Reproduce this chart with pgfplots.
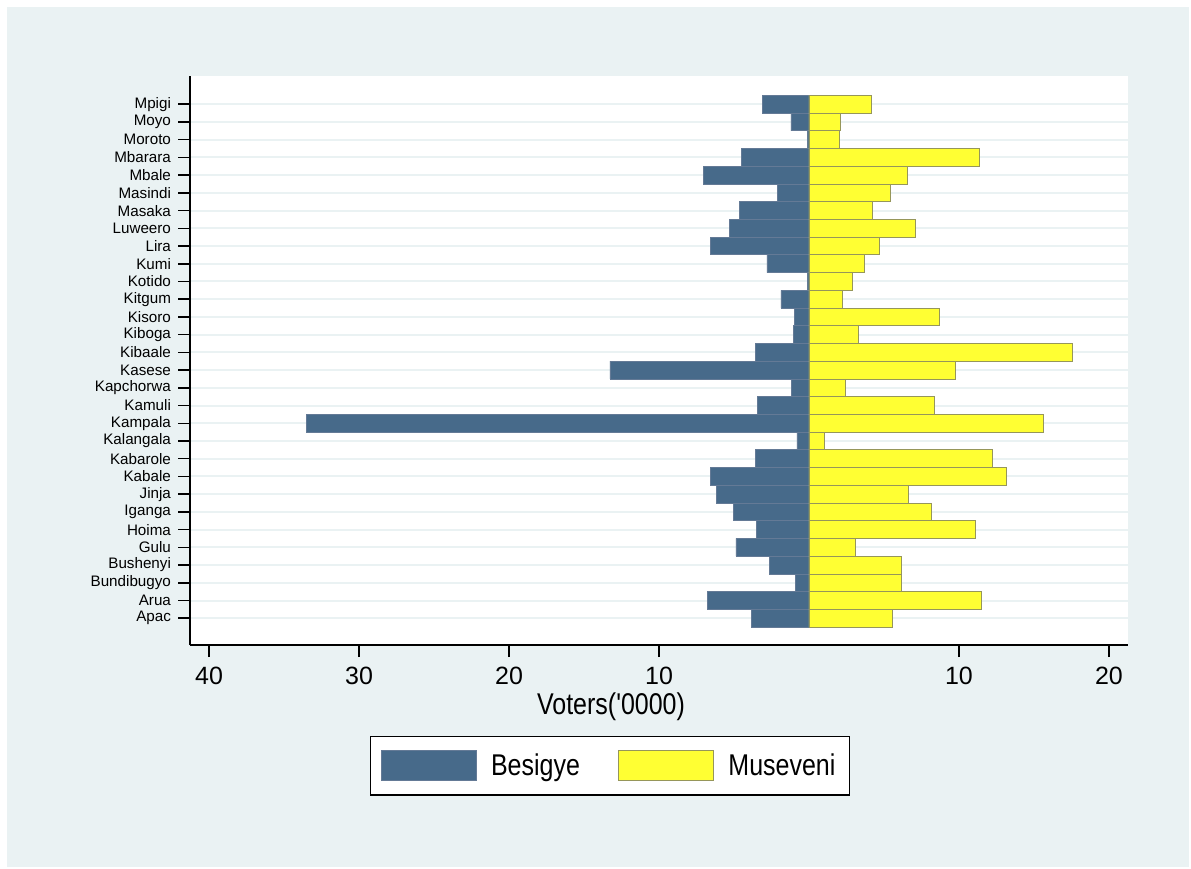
\documentclass[border=0pt]{standalone}
\usepackage{fontspec}
\setmainfont{Liberation Sans}
\usepackage{graphicx}
\usepackage{pgfplots}
\pgfplotsset{compat=1.18}
\definecolor{bgc}{RGB}{234,242,243}
\definecolor{besf}{RGB}{71,106,138}
\definecolor{besd}{RGB}{100,122,150}
\definecolor{musf}{RGB}{255,255,51}
\definecolor{musd}{RGB}{150,150,90}
\newcommand{\tl}[1]{\scalebox{1}[1.2]{#1}}
\pgfplotstableread{
y bes mus
1 -3.84 5.58
2 -6.78 11.51
3 -0.89 6.16
4 -2.64 6.16
5 -4.87 3.11
6 -3.49 11.11
7 -5.04 8.18
8 -6.18 6.62
9 -6.56 13.16
10 -3.56 12.24
11 -0.80 1.00
12 -33.49 15.62
13 -3.42 8.38
14 -1.16 2.44
15 -13.27 9.73
16 -3.56 17.56
17 -1.02 3.27
18 -0.96 8.69
19 -1.87 2.20
20 -0.10 2.91
21 -2.80 3.67
22 -6.58 4.67
23 -5.29 7.11
24 -4.62 4.22
25 -2.11 5.45
26 -7.02 6.55
27 -4.51 11.35
28 -0.10 2.02
29 -1.20 2.09
30 -3.09 4.18
}\datatable
\begin{document}
\begin{tikzpicture}
\fill[white] (0,0) rectangle (595.5pt,434.5pt);
\fill[bgc] (3.5pt,1pt) rectangle (594.5pt,431pt);
\begin{axis}[
  at={(95pt,112pt)}, anchor=south west,
  scale only axis, width=469.15pt, height=284.65pt,
  xmin=-41.27, xmax=21.29, ymin=-0.51, ymax=31.61,
  axis x line*=bottom, axis y line*=left,
  axis line style={line width=0.9pt, -},
  tick align=outside, major tick length=6pt,
  tick style={line width=0.75pt, black},
  xtick={-40,-30,-20,-10,10,20},
  xticklabels={40,30,20,10,10,20},
  ytick={1,...,30},
  yticklabels={Apac,Arua,Bundibugyo,Bushenyi,Gulu,Hoima,Iganga,Jinja,Kabale,Kabarole,Kalangala,Kampala,Kamuli,Kapchorwa,Kasese,Kibaale,Kiboga,Kisoro,Kitgum,Kotido,Kumi,Lira,Luweero,Masaka,Masindi,Mbale,Mbarara,Moroto,Moyo,Mpigi},
  yticklabel style={font=\fontsize{7.6}{9}\selectfont},
  xticklabel style={font=\fontsize{12.5}{15}\selectfont, yshift=-1.5pt},
  ymajorgrids, major grid style={bgc, line width=1pt},
  axis background/.style={fill=white},
  xlabel={\tl{Voters(\textquotesingle 0000)}},
  xlabel style={font=\fontsize{12.5}{15}\selectfont, at={(axis description cs:0.4487,-0.1212)}, anchor=base},
  legend columns=2,
  legend image code/.code={\draw[#1, line width=0.5pt] (0pt,-7.5pt) rectangle (47.5pt,7.5pt); \path[draw=none, fill=none] (0pt,0pt) -- (53pt,0pt);},
  legend style={at={(axis description cs:0.4476,-0.212)}, anchor=center, draw=black, line width=0.6pt, fill=white,
    font=\fontsize{12.5}{15}\selectfont, inner xsep=5pt, inner ysep=6.5pt,
    /tikz/every even column/.append style={column sep=17pt}},
]
\addplot[xbar, bar width=1, bar shift=0pt, fill=besf, draw=besd, line width=0.4pt] table[x=bes, y=y] {\datatable};
\addlegendentry{\tl{Besigye}}
\addplot[xbar, bar width=1, bar shift=0pt, fill=musf, draw=musd, line width=0.4pt] table[x=mus, y=y] {\datatable};
\addlegendentry{\tl{Museveni}}
\end{axis}
\pgfresetboundingbox
\path (0,0) rectangle (595.5pt,434.5pt);
\end{tikzpicture}
\end{document}
